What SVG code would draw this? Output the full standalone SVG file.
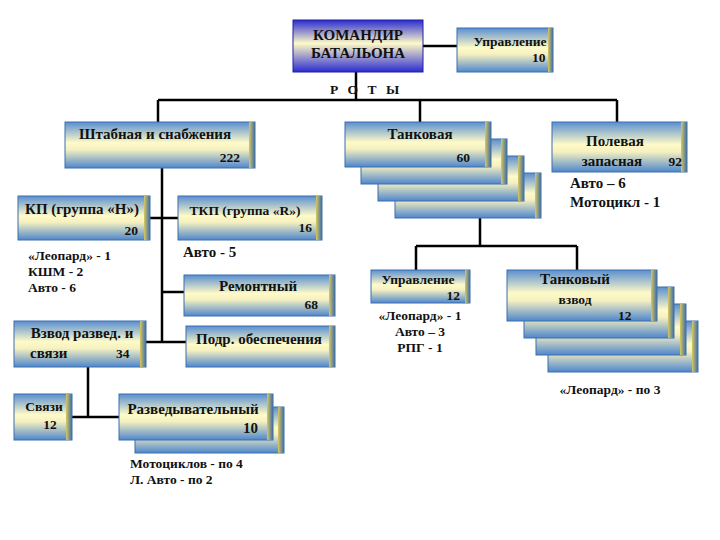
<svg xmlns="http://www.w3.org/2000/svg" width="720" height="540" viewBox="0 0 720 540">
<defs>
<linearGradient id="g" x1="0" y1="0" x2="0" y2="1">
<stop offset="0" stop-color="#5a8fd0"/><stop offset="0.45" stop-color="#fffac8"/><stop offset="0.6" stop-color="#f4f0c0"/><stop offset="1" stop-color="#4f86cc"/>
</linearGradient>
<linearGradient id="gc" x1="0" y1="0" x2="0" y2="1">
<stop offset="0" stop-color="#2a2ad0"/><stop offset="0.45" stop-color="#fffac8"/><stop offset="1" stop-color="#2a2ad0"/>
</linearGradient>
<linearGradient id="edge" x1="0" y1="0" x2="1" y2="0">
<stop offset="0" stop-color="#d8c860"/><stop offset="1" stop-color="#3d6da8"/>
</linearGradient>
</defs>
<style>
.b{fill:url(#g);stroke:#3a6fb0;stroke-width:1}
.c{fill:url(#gc);stroke:#2020a0;stroke-width:1}
.e{fill:url(#edge)}
text{font-family:"Liberation Serif","Times New Roman",serif;font-weight:bold;font-size:13.5px;fill:#111}
.lg{font-size:15px}
.m{text-anchor:middle}
.r{text-anchor:end}
.ln{stroke:#000;stroke-width:2.5;fill:none}
</style>
<rect width="720" height="540" fill="#fff"/>
<g id="connectors">
<path class="ln" d="M423 46H457M356 72V100M158 100H617M158 100V122M420 100V122M617 100V122M162 168V342M150 218H178M162 292H184M146 342H186M88 367V417M72 417H119M480 218V246M416 246H577M416 246V270M577 246V270"/>
</g>
<g id="commander"><rect class="c" x="293" y="20" width="130" height="52"/><text class="m lg" x="358" y="40">КОМАНДИР</text><text class="m lg" x="358" y="58">БАТАЛЬОНА</text></g>
<g id="upr10"><rect class="b" x="457" y="28" width="96" height="44"/><rect class="e" x="548" y="28" width="5" height="44"/><text class="m" x="510" y="46">Управление</text><text x="532" y="62">10</text></g>
<text x="330" y="94" style="letter-spacing:3px">Р О Т Ы</text>
<g id="shtab"><rect class="b" x="65" y="122" width="190" height="46"/><rect class="e" x="249" y="122" width="6" height="46"/><text class="m lg" x="155" y="139">Штабная и снабжения</text><text class="r" x="240" y="162">222</text></g>
<g id="tank">
<rect class="b" x="395" y="173" width="146" height="45"/><rect class="e" x="535" y="173" width="6" height="45"/>
<rect class="b" x="378" y="156" width="146" height="45"/><rect class="e" x="518" y="156" width="6" height="45"/>
<rect class="b" x="361" y="139" width="146" height="45"/><rect class="e" x="501" y="139" width="6" height="45"/>
<rect class="b" x="345" y="122" width="146" height="45"/><rect class="e" x="485" y="122" width="6" height="45"/>
<text class="m lg" x="420" y="139">Танковая</text><text class="r" x="470" y="162">60</text></g>
<g id="pole"><rect class="b" x="552" y="122" width="135" height="50"/><rect class="e" x="681" y="122" width="6" height="50"/><text class="m lg" x="615" y="146">Полевая</text><text class="m lg" x="612" y="166">запасная</text><text class="r" x="682" y="166">92</text>
<text class="lg" x="570" y="188">Авто – 6</text><text class="lg" x="570" y="207">Мотоцикл - 1</text></g>
<g id="kp"><rect class="b" x="18" y="196" width="132" height="44"/><rect class="e" x="144" y="196" width="6" height="44"/><text class="m lg" x="82" y="214">КП (группа «Н»)</text><text class="r" x="138" y="235">20</text>
<text x="28" y="260">«Леопард» - 1</text><text x="28" y="276">КШМ - 2</text><text x="28" y="292">Авто - 6</text></g>
<g id="tkp"><rect class="b" x="178" y="196" width="144" height="44"/><rect class="e" x="316" y="196" width="6" height="44"/><text class="m" x="245" y="215">ТКП (группа «R»)</text><text class="r" x="312" y="232">16</text>
<text class="lg" x="183" y="257">Авто - 5</text></g>
<g id="remont"><rect class="b" x="184" y="275" width="151" height="41"/><rect class="e" x="329" y="275" width="6" height="41"/><text class="m lg" x="258" y="291">Ремонтный</text><text class="r" x="318" y="309">68</text></g>
<g id="podr"><rect class="b" x="186" y="326" width="149" height="41"/><rect class="e" x="329" y="326" width="6" height="41"/><text class="m lg" x="259" y="344">Подр. обеспечения</text></g>
<g id="vzvod"><rect class="b" x="14" y="321" width="132" height="46"/><rect class="e" x="140" y="321" width="6" height="46"/><text class="m lg" x="82" y="338">Взвод развед. и</text><text class="lg" x="30" y="358">связи</text><text x="116" y="358">34</text></g>
<g id="svyazi"><rect class="b" x="14" y="394" width="58" height="46"/><rect class="e" x="66" y="394" width="6" height="46"/><text class="m" x="44" y="411">Связи</text><text class="m" x="50" y="429">12</text></g>
<g id="razv"><rect class="b" x="135" y="407" width="149" height="46"/><rect class="e" x="278" y="407" width="6" height="46"/>
<rect class="b" x="119" y="394" width="154" height="46"/><rect class="e" x="267" y="394" width="6" height="46"/><text class="m lg" x="193" y="414">Разведывательный</text><text class="r lg" x="258" y="433">10</text>
<text x="130" y="468">Мотоциклов - по 4</text><text x="130" y="484">Л. Авто - по 2</text></g>
<g id="upr12"><rect class="b" x="371" y="270" width="99" height="33"/><rect class="e" x="465" y="270" width="5" height="33"/><text class="m" x="418" y="284">Управление</text><text class="r" x="460" y="300">12</text>
<text class="m" x="420" y="320">«Леопард» - 1</text><text class="m" x="420" y="336">Авто – 3</text><text class="m" x="420" y="352">РПГ - 1</text></g>
<g id="tvzvod">
<rect class="b" x="548" y="321" width="150" height="51"/><rect class="e" x="692" y="321" width="6" height="51"/>
<rect class="b" x="536" y="304" width="150" height="51"/><rect class="e" x="680" y="304" width="6" height="51"/>
<rect class="b" x="524" y="287" width="150" height="51"/><rect class="e" x="668" y="287" width="6" height="51"/>
<rect class="b" x="507" y="270" width="150" height="51"/><rect class="e" x="651" y="270" width="6" height="51"/>
<text class="m lg" x="575" y="284">Танковый</text><text class="m" x="575" y="304">взвод</text><text x="618" y="320">12</text>
<text class="m" x="610" y="394">«Леопард» - по 3</text></g>
</svg>
